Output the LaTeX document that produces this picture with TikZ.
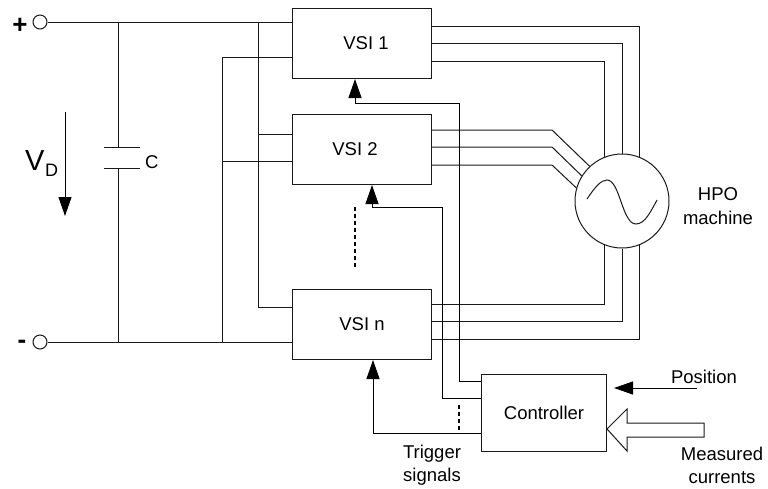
\documentclass[tikz,border=0pt]{standalone}
\usepackage{fontspec}
\setmainfont{Liberation Sans}
\usepackage{tikz}
\usetikzlibrary{arrows.meta,positioning}

\begin{document}
\begin{tikzpicture}[
    x=1pt, y=-1pt,
    every node/.style={font=\fontsize{18.5}{22}\selectfont},
    wire/.style={draw=black!90, line width=1pt},
    sighead/.style={-{Triangle[length=19pt, width=13pt]}},
    box/.style={rectangle, wire, minimum width=139pt, minimum height=70pt, inner sep=0pt, align=center},
    terminal/.style={circle, wire, minimum size=14pt, inner sep=0pt},
    caption/.style={inner sep=0pt, align=center},
    signal/.style={black, line width=1pt},
    breakmark/.style={black, line width=1.1pt, dash pattern=on 4pt off 3pt}
]
    \useasboundingbox (0,0) rectangle (768,488);

    % Inverters
    \node[box, anchor=north west] (vsi1) at (292,8) {\hspace{8pt}VSI 1};
    \node[box, below=35pt of vsi1] (vsi2) {VSI 2\hspace{14pt}};
    \node[box, below=104pt of vsi2] (vsin) {VSI n};
    \node[box, anchor=north west, minimum width=125pt, minimum height=77pt] (ctrl) at (481,374) {Controller};
    \node[circle, wire, minimum size=94pt, inner sep=0pt] (hpo) at (622,201) {};

    % DC link
    \node[terminal] (tplus) at (40,22) {};
    \node[terminal] (tminus) at (40,342) {};
    \node[caption, font=\fontsize{26}{26}\selectfont\bfseries] (plus) at (20,26) {+};
    \node[caption, font=\fontsize{26}{26}\selectfont\bfseries] (minus) at (22,344) {-};
    \coordinate (cup) at (118,147);
    \coordinate (cdown) at (118,168);
    \draw[wire] (tplus) -- (vsi1.west |- tplus);
    \draw[wire] (tminus) -- (vsin.west |- tminus);
    \draw[wire] (cup |- tplus) -- (cup);
    \draw[wire] (cdown |- tminus) -- (cdown);
    \draw[wire] ([xshift=-14pt]cup) -- ([xshift=22pt]cup);
    \draw[wire] ([xshift=-14pt]cdown) -- ([xshift=22pt]cdown);
    \node[caption, anchor=base west] (clabel) at (145,168) {C};

    % Voltage arrow
    \coordinate (vtop) at (65,112);
    \coordinate (vtip) at (65,216);
    \draw[signal, sighead] (vtop) -- (vtip);
    \node[caption, anchor=base west, font=\fontsize{29}{29}\selectfont] (vd) at (25,170) {V};
    \node[caption, anchor=base west, font=\fontsize{18}{18}\selectfont] (vdsub) at (45,176) {D};

    % Bus bars to the inverters
    \draw[wire] (258,22) |- (vsin.west |- 0,307);
    \draw[wire] (258,134) -- (vsi2.west |- 0,134);
    \draw[wire] (222,342) |- (vsi1.west |- 0,57);
    \draw[wire] (222,161) -- (vsi2.west |- 0,161);

    % Phases to the machine
    \draw[wire] (vsi1.east |- 0,26) -| (hpo.69);
    \draw[wire] (vsi1.east |- 0,43) -| (hpo.north);
    \draw[wire] (vsi1.east |- 0,61) -| (hpo.111);
    \draw[wire] (vsi2.east |- 0,130) -- (552,130) -- (hpo.133);
    \draw[wire] (vsi2.east |- 0,147) -- (552,147) -- (hpo.148);
    \draw[wire] (vsi2.east |- 0,165) -- (552,165) -- (hpo.164);
    \draw[wire] (vsin.east |- 0,304) -| (hpo.-111);
    \draw[wire] (vsin.east |- 0,321) -| (hpo.south);
    \draw[wire] (vsin.east |- 0,339) -| (hpo.-69);

    % Sine inside the machine
    \draw[wire] (587,199) .. controls (595,187) and (601,180) .. (607,180)
        .. controls (620,180) and (622,224) .. (636,224)
        .. controls (645,224) and (651,211) .. (657,200);

    % Trigger signals
    \draw[signal, sighead] (ctrl.west |- 0,381) -- (459,381) |- (355,103) -- (vsi1.south -| 355,0);
    \draw[signal, sighead] (ctrl.west |- 0,398) -- (442,398) |- (372,207) -- (vsi2.south -| 372,0);
    \draw[signal, sighead] (ctrl.west |- 0,433) -| (vsin.south -| 373,0);
    \draw[breakmark] (355,207) -- (355,267);
    \draw[breakmark] (459,405) -- (459,430);

    % Inputs of the controller
    \coordinate (posstart) at (697,388);
    \coordinate (postip) at (614,388);
    \draw[signal, sighead] (posstart) -- (postip);
    \draw[wire] (ctrl.east |- 0,429) -- (627,409) -- (627,423) -- (704,423) -- (704,437) -- (627,437) -- (627,451) -- cycle;

    % Captions
    \node[caption] (hpolabel) at (718,206) {HPO\\[2pt]machine};
    \node[caption] (poslabel) at (704,377) {Position};
    \node[caption] (triglabel) at (432,465) {Trigger\\[1pt]signals};
    \node[caption] (measlabel) at (722,465) {Measured\\[1pt]currents};
\end{tikzpicture}
\end{document}
